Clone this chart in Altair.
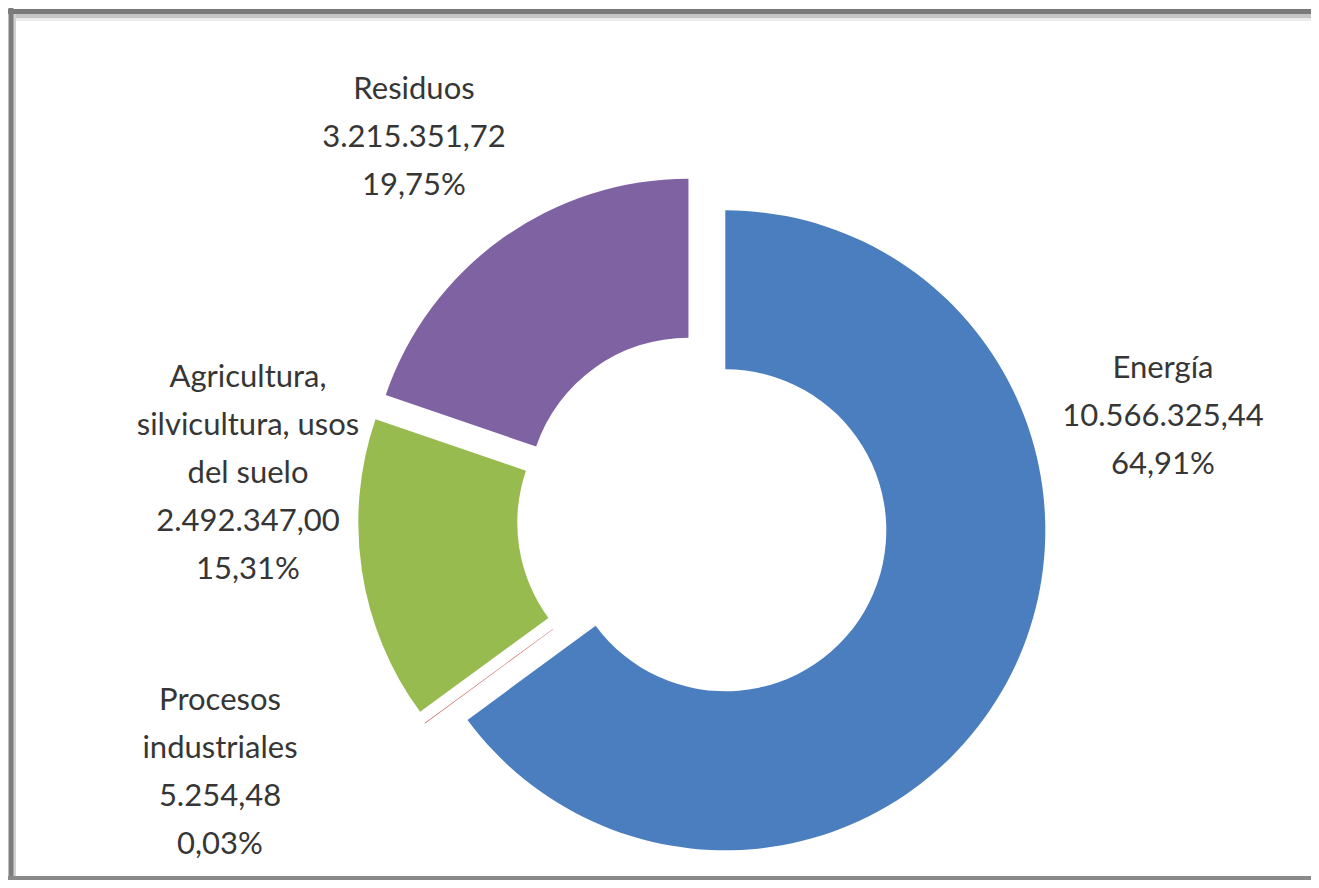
import altair as alt
import pandas as pd

# ---- data ----
categories = ["Energía", "Procesos industriales",
              "Agricultura, silvicultura, usos del suelo", "Residuos"]
values = [10566325.44, 5254.48, 2492347.00, 3215351.72]
value_labels = ["10.566.325,44", "5.254,48", "2.492.347,00", "3.215.351,72"]
percent_labels = ["64,91%", "0,03%", "15,31%", "19,75%"]
name_lines = [["Energía"], ["Procesos", "industriales"],
              ["Agricultura,", "silvicultura, usos", "del suelo"], ["Residuos"]]

# ---- styles / layout ----
colors = ["#4a7ebf", "#c0504d", "#98bb50", "#7f62a2"]
W, H = 1303, 872
CX, CY = 695, 511          # donut centre (before explosion)
EXPLODE = 25               # explosion distance
R_OUT, R_IN = 320, 161
label_pos = {              # label anchor: centre x, first-line y
    "Energía": (1155, 361),
    "Procesos industriales": (212, 693),
    "Agricultura, silvicultura, usos del suelo": (240, 370),
    "Residuos": (406, 82),
}

df = pd.DataFrame({
    "order": list(range(len(categories))),
    "category": categories,
    "value": values,
    "label": ["\n".join(n + [v, p]) for n, v, p in zip(name_lines, value_labels, percent_labels)],
    "lx": [label_pos[c][0] for c in categories],
    "ly": [label_pos[c][1] for c in categories],
})

base = alt.Chart(df).transform_joinaggregate(
    total="sum(value)"
).transform_window(
    cum="sum(value)", sort=[alt.SortField("order")], frame=[None, 0]
).transform_calculate(
    a1="datum.cum / datum.total * 2 * PI",
    a0="(datum.cum - datum.value) / datum.total * 2 * PI",
    mid="(datum.a0 + datum.a1) / 2",
    ex=f"{CX} + {EXPLODE} * sin(datum.mid)",
    ey=f"{CY} - {EXPLODE} * cos(datum.mid)",
)

arcs = base.mark_arc(outerRadius=R_OUT, innerRadius=R_IN).encode(
    theta=alt.Theta("a0:Q", scale=None, stack=None),
    theta2=alt.Theta2("a1:Q"),
    x=alt.X("ex:Q", scale=None, axis=None),
    y=alt.Y("ey:Q", scale=None, axis=None),
    color=alt.Color("category:N", scale=alt.Scale(domain=categories, range=colors), legend=None),
)

labels = alt.Chart(df).mark_text(
    font="Lato", fontSize=31, color="#363636", align="center", baseline="middle",
    lineBreak="\n", lineHeight=48,
).encode(
    x=alt.X("lx:Q", scale=None, axis=None),
    y=alt.Y("ly:Q", scale=None, axis=None),
    text="label:N",
)

one = pd.DataFrame({"k": [0]})
right_mask = alt.Chart(one).mark_rule(color="white", strokeWidth=4).encode(
    x=alt.value(W - 1), y=alt.value(-2), y2=alt.value(H + 2))
frame_left = alt.Chart(one).mark_rule(color="#7d7d7d", strokeWidth=5).encode(
    x=alt.value(3), y=alt.value(0), y2=alt.value(H))
frame_left2 = alt.Chart(one).mark_rule(color="#d2d2d2", strokeWidth=3).encode(
    x=alt.value(6.5), y=alt.value(6), y2=alt.value(H - 4))
frame_top = alt.Chart(one).mark_rule(color="#7a7a7a", strokeWidth=5).encode(
    y=alt.value(3.5), x=alt.value(0), x2=alt.value(W))
frame_top2 = alt.Chart(one).mark_rule(color="#c4c4c4", strokeWidth=4).encode(
    y=alt.value(8), x=alt.value(5), x2=alt.value(W))
frame_top3 = alt.Chart(one).mark_rule(color="#ececec", strokeWidth=3).encode(
    y=alt.value(11.5), x=alt.value(5), x2=alt.value(W))
frame_bottom = alt.Chart(one).mark_rule(color="#8a8a8a", strokeWidth=4).encode(
    y=alt.value(H - 2), x=alt.value(0), x2=alt.value(W))

chart = alt.layer(
    right_mask, frame_top3, frame_top2, frame_top, frame_left2, frame_left, frame_bottom,
    arcs, labels
).properties(
    width=W, height=H, padding=0, autosize="none", background="white"
).configure_view(strokeOpacity=0, strokeWidth=0)

chart.save("out.html", embed_options={"renderer": "svg", "actions": False})
